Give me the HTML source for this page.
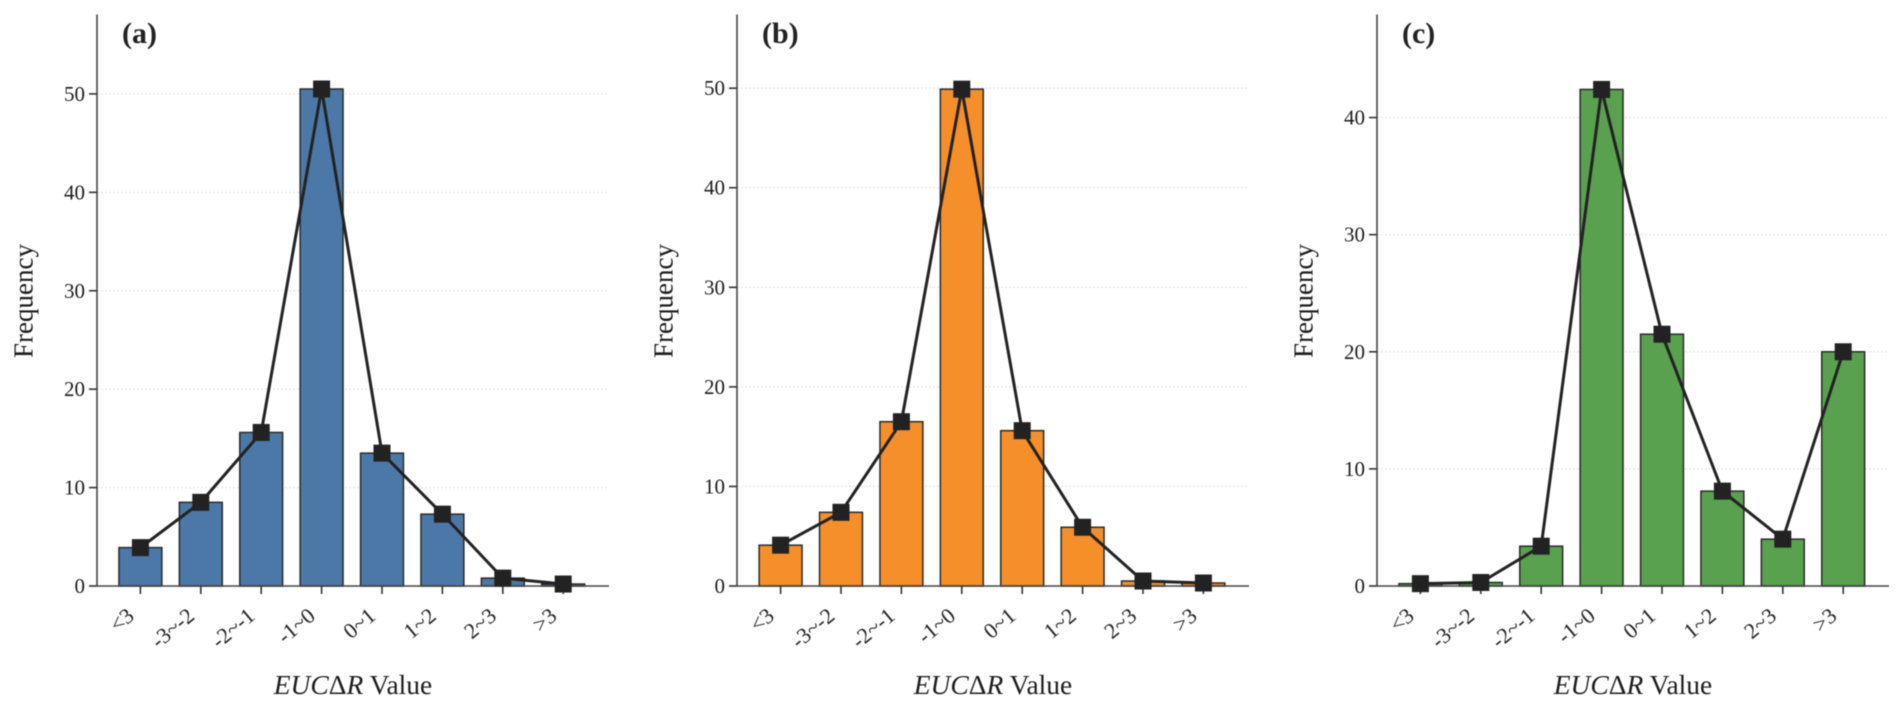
<!DOCTYPE html>
<html lang="en">
<head>
<meta charset="utf-8">
<title>EUCΔR Value Frequency Distributions</title>
<style>
  html, body { margin: 0; padding: 0; background: #fff; }
  body { width: 1902px; height: 711px; overflow: hidden; }
  svg { display: block; font-family: "Liberation Serif", serif; }
  .soft { filter: blur(0.45px); }
</style>
</head>
<body>
<svg id="figure" xmlns="http://www.w3.org/2000/svg" width="1902" height="711" viewBox="0 0 1902 711"></svg>
<script>
const categories = ['<3', '-3~-2', '-2~-1', '-1~0', '0~1', '1~2', '2~3', '>3'];

const valuesA = [3.9, 8.5, 15.6, 50.5, 13.5, 7.3, 0.8, 0.2];
const valuesB = [4.1, 7.4, 16.5, 49.9, 15.6, 5.9, 0.5, 0.3];
const valuesC = [0.2, 0.3, 3.4, 42.4, 21.5, 8.1, 4.0, 20.0];

const yTicksA = [0, 10, 20, 30, 40, 50];
const yTicksB = [0, 10, 20, 30, 40, 50];
const yTicksC = [0, 10, 20, 30, 40];

const yLimitA = 58.07;
const yLimitB = 57.4;
const yLimitC = 48.8;

const panelLabels = ['(a)', '(b)', '(c)'];

const NS = 'http://www.w3.org/2000/svg';
const figure = document.getElementById('figure');

function make(tag, attrs, parent, text) {
  const el = document.createElementNS(NS, tag);
  for (const k in attrs) el.setAttribute(k, attrs[k]);
  if (text !== undefined) el.textContent = text;
  parent.appendChild(el);
  return el;
}

function drawPanel(layout, label, values, ticks, yLimit, color) {
  const plotTop = 14.5, plotBottom = 586;
  const xScale = i => layout.firstCenter + layout.step * i;
  const yScale = v => plotBottom - (v / yLimit) * (plotBottom - plotTop);
  const barWidth = layout.step * 0.71;

  const g = make('g', { class: 'soft' }, figure);
  
  

  // Gridlines and y ticks
  ticks.forEach(t => {
    if (t !== 0) {
      const grid = make('line', { x1: layout.spine, x2: layout.right, y1: yScale(t), y2: yScale(t), stroke: '#dcdcdc', 'stroke-width': 1, 'stroke-dasharray': '2 2' }, g);
      
      
    }
    const tick = make('line', { x1: layout.spine - 8, x2: layout.spine, y1: yScale(t), y2: yScale(t), stroke: '#333', 'stroke-width': 1.6 }, g);
    
    
    const tl = make('text', { x: layout.spine - 12, y: yScale(t) + 7, 'text-anchor': 'end', 'font-size': 21, fill: '#1c1c1c' }, g, String(t));
    
    
  });

  // Bars
  values.forEach((v, i) => {
    const bar = make('rect', { x: xScale(i) - barWidth / 2, y: yScale(v), width: barWidth, height: plotBottom - yScale(v), fill: color, stroke: '#2a2a2a', 'stroke-width': 1.5 }, g);
    
    
  });

  // Spines
  const ySpine = make('line', { x1: layout.spine, x2: layout.spine, y1: plotTop, y2: plotBottom, stroke: '#444', 'stroke-width': 1.6 }, g);
  
  
  const xSpine = make('line', { x1: layout.spine - 8, x2: layout.right, y1: plotBottom, y2: plotBottom, stroke: '#444', 'stroke-width': 1.6 }, g);
  
  

  // X ticks and labels
  categories.forEach((c, i) => {
    const tick = make('line', { x1: xScale(i), x2: xScale(i), y1: plotBottom, y2: plotBottom + 8, stroke: '#333', 'stroke-width': 1.6 }, g);
    
    
    const px = xScale(i) - 5, py = plotBottom + 32;
    const tl = make('text', { x: px, y: py, 'text-anchor': 'end', 'font-size': 22, fill: '#222', transform: 'rotate(-40 ' + px + ' ' + py + ')' }, g, c);
    
    
  });

  // Line and markers
  const points = values.map((v, i) => xScale(i) + ',' + yScale(v)).join(' ');
  const line = make('polyline', { points: points, fill: 'none', stroke: '#222', 'stroke-width': 3, 'stroke-linejoin': 'round' }, g);
  
  
  values.forEach((v, i) => {
    const marker = make('rect', { x: xScale(i) - 8.5, y: yScale(v) - 8.5, width: 17, height: 17, fill: '#222' }, g);
    
    
  });

  // Panel label
  const pl = make('text', { x: layout.spine + 25, y: 43, 'font-size': 30, 'font-weight': 'bold', fill: '#222' }, g, label);
  
  

  // Y axis title
  const yx = layout.spine - 64.5, yy = 301;
  const yTitle = make('text', { x: yx, y: yy, 'text-anchor': 'middle', 'font-size': 27, fill: '#1c1c1c', transform: 'rotate(-90 ' + yx + ' ' + yy + ')' }, g, 'Frequency');
  
  

  // X axis title
  const xTitle = make('text', { x: layout.spine + 256, y: 694, 'text-anchor': 'middle', 'font-size': 27.5, fill: '#1c1c1c' }, g);
  
  
  make('tspan', { 'font-style': 'italic' }, xTitle, 'EUC');
  make('tspan', {}, xTitle, 'Δ');
  make('tspan', { 'font-style': 'italic' }, xTitle, 'R');
  make('tspan', {}, xTitle, ' Value');
}

const layoutA = { id: 'a', spine: 97, firstCenter: 140.4, step: 60.4, right: 609 };
const layoutB = { id: 'b', spine: 737, firstCenter: 780.6, step: 60.4, right: 1249 };
const layoutC = { id: 'c', spine: 1377, firstCenter: 1420.4, step: 60.4, right: 1889 };

drawPanel(layoutA, panelLabels[0], valuesA, yTicksA, yLimitA, '#4c78a8');
drawPanel(layoutB, panelLabels[1], valuesB, yTicksB, yLimitB, '#f58f29');
drawPanel(layoutC, panelLabels[2], valuesC, yTicksC, yLimitC, '#59a14f');
</script>
</body>
</html>
